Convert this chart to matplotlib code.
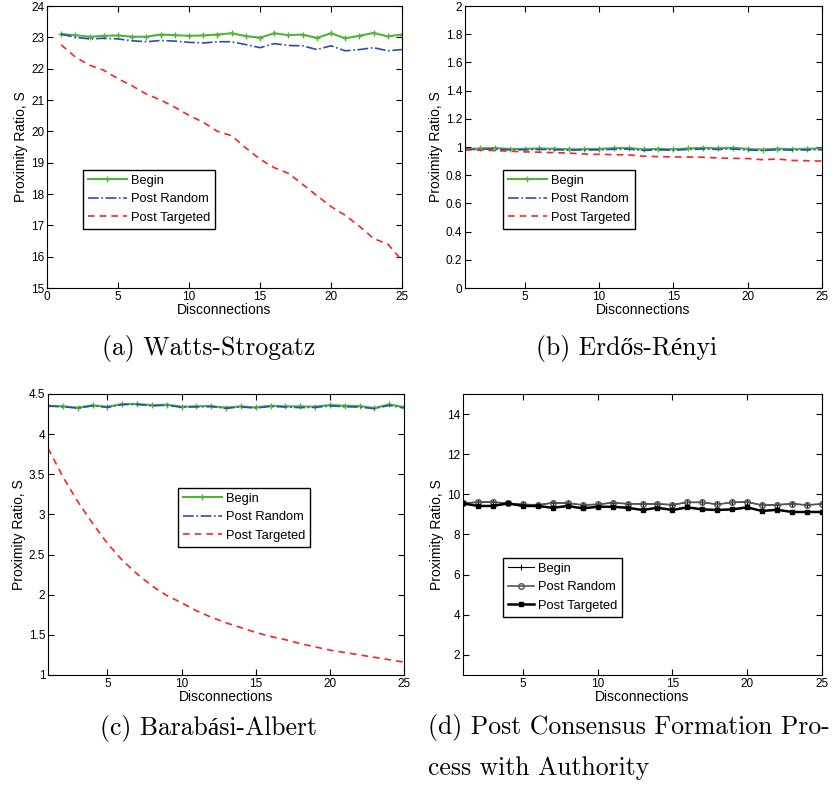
import numpy as np
import matplotlib
matplotlib.use("Agg")
import matplotlib.pyplot as plt
from matplotlib.ticker import FuncFormatter

plt.rcParams['font.family'] = ['Liberation Sans', 'DejaVu Sans']

# ----- data -----
x = np.arange(1, 26)

ws_begin = [23.10, 23.07, 23.02, 23.05, 23.06, 23.02, 23.02, 23.09, 23.07, 23.05,
            23.06, 23.09, 23.13, 23.04, 22.99, 23.13, 23.07, 23.09, 22.98, 23.13,
            22.97, 23.05, 23.14, 23.03, 23.09]
ws_random = [23.10, 23.00, 22.95, 22.97, 22.95, 22.89, 22.86, 22.90, 22.88, 22.84,
             22.82, 22.86, 22.86, 22.77, 22.67, 22.80, 22.74, 22.73, 22.61, 22.73,
             22.57, 22.61, 22.67, 22.57, 22.61]
ws_target = [22.76, 22.37, 22.11, 21.95, 21.68, 21.45, 21.19, 21.00, 20.77, 20.51,
             20.29, 20.00, 19.86, 19.47, 19.11, 18.84, 18.66, 18.31, 17.95, 17.60,
             17.32, 16.97, 16.58, 16.40, 15.88]

er_begin = [0.985, 0.990, 0.993, 0.986, 0.987, 0.990, 0.988, 0.984, 0.985, 0.987,
            0.992, 0.993, 0.983, 0.988, 0.984, 0.990, 0.994, 0.991, 0.995, 0.987,
            0.982, 0.989, 0.985, 0.988, 0.990]
er_random = [0.982, 0.984, 0.986, 0.980, 0.981, 0.983, 0.981, 0.978, 0.979, 0.980,
             0.984, 0.985, 0.976, 0.980, 0.977, 0.983, 0.986, 0.983, 0.986, 0.979,
             0.975, 0.981, 0.978, 0.980, 0.981]
er_target = [0.980, 0.978, 0.975, 0.970, 0.966, 0.963, 0.960, 0.957, 0.950, 0.948,
             0.946, 0.944, 0.935, 0.932, 0.930, 0.929, 0.928, 0.922, 0.920, 0.918,
             0.910, 0.915, 0.905, 0.903, 0.900]

ba_begin = [4.354, 4.346, 4.330, 4.358, 4.340, 4.375, 4.375, 4.362, 4.367, 4.342,
            4.346, 4.350, 4.330, 4.346, 4.333, 4.354, 4.346, 4.346, 4.342, 4.362,
            4.354, 4.350, 4.325, 4.370, 4.337]
ba_random = [4.350, 4.340, 4.325, 4.352, 4.335, 4.368, 4.370, 4.352, 4.360, 4.335,
             4.340, 4.343, 4.322, 4.338, 4.325, 4.345, 4.338, 4.330, 4.333, 4.352,
             4.342, 4.336, 4.318, 4.358, 4.325]
ba_target = [3.825, 3.47, 3.16, 2.89, 2.64, 2.43, 2.26, 2.11, 1.99, 1.90,
             1.80, 1.72, 1.65, 1.59, 1.53, 1.48, 1.44, 1.39, 1.35, 1.31,
             1.28, 1.25, 1.22, 1.19, 1.16]

au_begin = [9.55, 9.60, 9.61, 9.55, 9.50, 9.47, 9.57, 9.56, 9.47, 9.50,
            9.58, 9.53, 9.52, 9.52, 9.48, 9.60, 9.60, 9.50, 9.60, 9.62,
            9.46, 9.48, 9.53, 9.47, 9.52]
au_random = [9.55, 9.62, 9.62, 9.55, 9.50, 9.47, 9.58, 9.57, 9.47, 9.50,
             9.58, 9.53, 9.52, 9.52, 9.48, 9.60, 9.60, 9.50, 9.60, 9.62,
             9.45, 9.48, 9.52, 9.47, 9.52]
au_target = [9.55, 9.42, 9.42, 9.55, 9.42, 9.42, 9.33, 9.42, 9.30, 9.38,
             9.38, 9.33, 9.22, 9.33, 9.22, 9.35, 9.25, 9.22, 9.25, 9.35,
             9.17, 9.23, 9.12, 9.12, 9.12]

labels = ["Begin", "Post Random", "Post Targeted"]
captions = ["(a) Watts-Strogatz", "(b) Erdős-Rényi", "(c) Barabási-Albert",
            "(d) Post Consensus Formation Pro-\ncess with Authority"]

green = '#4fb53a'
blue = '#2a4cb5'
red = '#ff2222'

fig = plt.figure(figsize=(8.32, 7.9), dpi=100)

positions = [[0.0565, 0.6354, 0.4267, 0.357],
             [0.5589, 0.6354, 0.4291, 0.357],
             [0.0577, 0.1456, 0.4279, 0.3557],
             [0.5565, 0.1456, 0.4315, 0.3557]]
axes = [fig.add_axes(p) for p in positions]

leg_kw = dict(loc='lower left', fontsize=9.3, frameon=True, fancybox=False,
              edgecolor='black', framealpha=1, handletextpad=0.3,
              borderpad=0.4, labelspacing=0.5, borderaxespad=0)


def style(ax):
    ax.tick_params(direction='in', top=True, right=True, labelsize=8.5,
                   length=4, width=0.8, pad=2)
    for s in ax.spines.values():
        s.set_linewidth(0.8)
    ax.set_xlabel("Disconnections", fontsize=10, labelpad=0)
    ax.set_ylabel("Proximity Ratio, S", fontsize=10, labelpad=2)
    ax.yaxis.set_major_formatter(FuncFormatter(lambda v, p: f"{v:g}"))


def color_panel(ax, b, r, t, leg_pos):
    ax.plot(x, b, color=green, lw=1.5, marker='+', ms=5, mew=1.0, label=labels[0])
    ax.plot(x, r, color=blue, lw=1.2, ls='-.', label=labels[1])
    ax.plot(x, t, color=red, lw=1.2, ls=(0, (4, 3)), label=labels[2])
    ax.legend(bbox_to_anchor=leg_pos, handlelength=3.0, **leg_kw)


# (a)
ax = axes[0]
color_panel(ax, ws_begin, ws_random, ws_target, (0.101, 0.209))
ax.set_xlim(0, 25)
ax.set_ylim(15, 24)
ax.set_xticks(np.arange(0, 26, 5))
ax.set_yticks(np.arange(15, 25, 1))
style(ax)

# (b)
ax = axes[1]
color_panel(ax, er_begin, er_random, er_target, (0.106, 0.209))
ax.set_xlim(1, 25)
ax.set_ylim(0, 2)
ax.set_xticks(np.arange(5, 26, 5))
ax.set_yticks(np.arange(0, 2.01, 0.2))
style(ax)

# (c)
ax = axes[2]
color_panel(ax, ba_begin, ba_random, ba_target, (0.365, 0.455))
ax.set_xlim(1, 25)
ax.set_ylim(1, 4.5)
ax.set_xticks(np.arange(5, 26, 5))
ax.set_yticks(np.arange(1, 4.51, 0.5))
style(ax)

# (d)
ax = axes[3]
ax.plot(x, au_begin, color='black', lw=0.8, marker='+', ms=5, mew=0.8, label=labels[0])
ax.plot(x, au_random, color='#555555', lw=1.2, marker='o', ms=4, mfc='none',
        mew=1.0, label=labels[1])
ax.plot(x, au_target, color='black', lw=1.8, marker='s', ms=2.5, label=labels[2])
ax.legend(bbox_to_anchor=(0.111, 0.206), handlelength=2.0, **leg_kw)
ax.set_xlim(1, 25)
ax.set_ylim(1, 15)
ax.set_xticks(np.arange(5, 26, 5))
ax.set_yticks(np.arange(2, 15, 2))
style(ax)

# ----- captions -----
cap_font = ['cmr10', 'Liberation Serif']
fig.text(209 / 832, 1 - 348 / 790, captions[0], ha='center', va='center',
         fontsize=18.5, family=cap_font)
fig.text(627 / 832, 1 - 348 / 790, captions[1], ha='center', va='center',
         fontsize=18.5, family=cap_font)
fig.text(209 / 832, 1 - 728 / 790, captions[2], ha='center', va='center',
         fontsize=18.5, family=cap_font)
fig.text(428 / 832, 1 - 714 / 790, captions[3], ha='left', va='top',
         fontsize=18.5, family=cap_font, linespacing=1.8)

fig.savefig("out.png", dpi=100)
